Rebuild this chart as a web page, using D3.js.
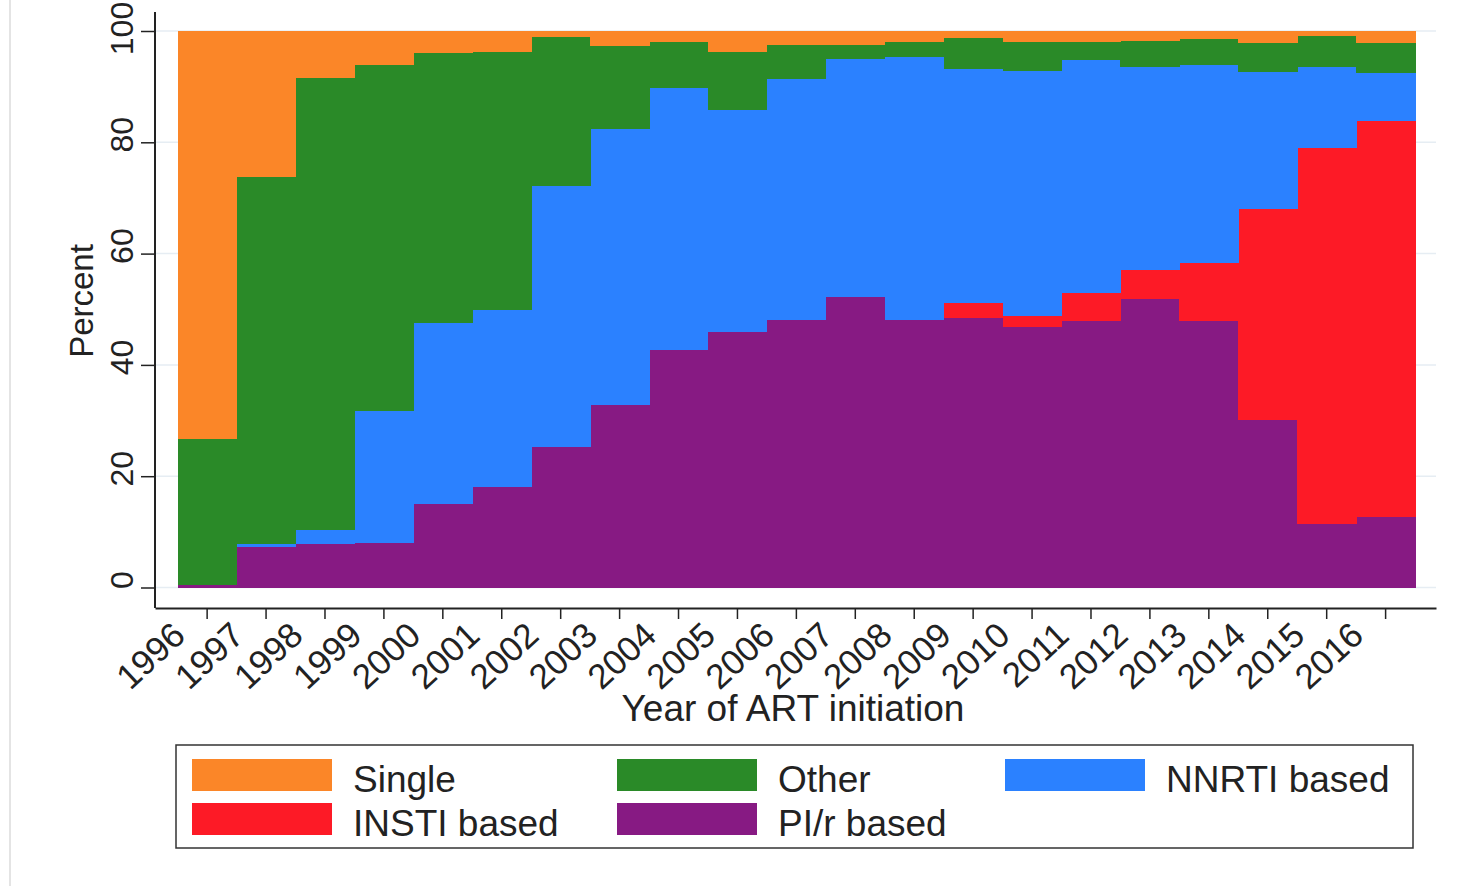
<!DOCTYPE html>
<html>
<head>
<meta charset="utf-8">
<script src="https://cdn.jsdelivr.net/npm/d3@7"></script>
<style>
  body { margin: 0; background: #fff; }
  svg { display: block; font-family: "Liberation Sans", Arial, sans-serif; }
</style>
</head>
<body>
<svg id="chart" width="1462" height="886"></svg>
<script>
const years = ['1996','1997','1998','1999','2000','2001','2002','2003','2004','2005','2006',
               '2007','2008','2009','2010','2011','2012','2013','2014','2015','2016']
const piR    = [0.5, 7.3, 7.9, 8.0, 15.0, 18.1, 25.3, 32.8, 42.6, 45.9, 48.0, 52.2, 48.0, 48.4, 46.9, 47.9, 51.8, 47.8, 30.1, 11.5, 12.7]
const insti  = [0, 0, 0, 0, 0, 0, 0, 0, 0, 0, 0, 0, 0, 2.7, 1.9, 5.0, 5.3, 10.6, 38.0, 67.4, 71.2]
const nnrti  = [0, 0.5, 2.4, 23.7, 32.6, 31.8, 46.9, 49.6, 47.2, 39.9, 43.4, 42.7, 47.4, 42.1, 44.1, 41.9, 36.5, 35.5, 24.6, 14.7, 8.5]
const other  = [26.1, 66.0, 81.3, 62.2, 48.4, 46.3, 26.7, 14.9, 8.2, 10.5, 6.1, 2.6, 2.6, 5.5, 5.1, 3.2, 4.6, 4.6, 5.1, 5.5, 5.5]
const single = [73.4, 26.2, 8.4, 6.1, 4.0, 3.8, 1.1, 2.7, 2.0, 3.7, 2.5, 2.5, 2.0, 1.3, 2.0, 2.0, 1.8, 1.5, 2.2, 0.9, 2.1]
const yTicks = [0, 20, 40, 60, 80, 100]

// stacking order bottom -> top
const keys = ['PI/r based', 'INSTI based', 'NNRTI based', 'Other', 'Single']
const colors = {
    'Single': '#fb8628',
    'Other': '#2a8a28',
    'NNRTI based': '#2b81ff',
    'INSTI based': '#fd1a26',
    'PI/r based': '#871a83'
}
const legendRows = [['Single', 'Other', 'NNRTI based'], ['INSTI based', 'PI/r based']]

const table = years.map((y, i) => ({
    year: y,
    'PI/r based': piR[i],
    'INSTI based': insti[i],
    'NNRTI based': nnrti[i],
    'Other': other[i],
    'Single': single[i]
}))

const plot = { left: 155, right: 1436, top: 12, bottom: 608 }

const svg = d3.select('#chart')

const x = d3.scaleBand()
    .domain(years)
    .range([plot.left, plot.right])
    .paddingInner(0)
    .paddingOuter(0.37)
    .align(0.52)

const y = d3.scaleLinear()
    .domain([0, 100])
    .range([587.5, 31])

// faint gridlines
svg.append('g')
    .selectAll('line')
    .data(yTicks)
    .join('line')
        .attr('x1', plot.left)
        .attr('x2', plot.right)
        .attr('y1', d => y(d))
        .attr('y2', d => y(d))
        .attr('stroke', '#e6edf3')
        .attr('stroke-width', 1.5)

// faint outer border line at far left
svg.append('line')
    .attr('x1', 10).attr('x2', 10)
    .attr('y1', 0).attr('y2', 886)
    .attr('stroke', '#e4e4e4')
    .attr('stroke-width', 2)

const series = d3.stack().keys(keys)(table)

svg.append('g')
    .selectAll('g')
    .data(series)
    .join('g')
        .attr('fill', d => colors[d.key])
    .selectAll('rect')
    .data(d => d)
    .join('rect')
        .attr('x', d => x(d.data.year))
        .attr('width', x.bandwidth() + 0.5)
        .attr('y', d => y(d[1]))
        .attr('height', d => y(d[0]) - y(d[1]))
        .attr('shape-rendering', 'crispEdges')

// y axis
const yAxisGroup = svg.append('g')
    .attr('transform', `translate(${plot.left}, 0)`)
    .call(d3.axisLeft(y).tickValues(yTicks).tickSize(14).tickSizeOuter(0))
yAxisGroup.select('.domain').remove()
yAxisGroup.selectAll('.tick line').attr('stroke', '#222').attr('stroke-width', 1.5)
yAxisGroup.selectAll('.tick text')
    .attr('transform', 'rotate(-90)')
    .attr('x', d => d === 100 ? 3 : 8)
    .attr('y', -22)
    .attr('dy', 0)
    .attr('text-anchor', 'middle')
    .attr('font-size', 32)
    .attr('fill', '#222')

svg.append('line')
    .attr('x1', plot.left).attr('x2', plot.left)
    .attr('y1', plot.top).attr('y2', plot.bottom)
    .attr('stroke', '#222')
    .attr('stroke-width', 2)

// x axis
const xAxisGroup = svg.append('g')
    .attr('transform', `translate(0, ${plot.bottom})`)
    .call(d3.axisBottom(x).tickSize(11).tickSizeOuter(0))
xAxisGroup.select('.domain').attr('stroke', '#222').attr('stroke-width', 2)
xAxisGroup.selectAll('.tick line').attr('stroke', '#222').attr('stroke-width', 1.5)
xAxisGroup.selectAll('.tick text')
    .attr('text-anchor', 'end')
    .attr('font-size', 35)
    .attr('fill', '#222')
    .attr('y', 0)
    .attr('dy', 0)
    .attr('transform', 'translate(-20, 30) rotate(-43)')

// axis titles
svg.append('text')
    .attr('x', 793)
    .attr('y', 721)
    .attr('text-anchor', 'middle')
    .attr('font-size', 37)
    .attr('fill', '#222')
    .text('Year of ART initiation')

svg.append('text')
    .attr('transform', 'translate(93, 301) rotate(-90)')
    .attr('text-anchor', 'middle')
    .attr('font-size', 33)
    .attr('fill', '#222')
    .text('Percent')

// legend
const legend = svg.append('g')
legend.append('rect')
    .attr('x', 176).attr('y', 745)
    .attr('width', 1237).attr('height', 103)
    .attr('fill', '#fff')
    .attr('stroke', '#333')
    .attr('stroke-width', 1.5)

const colX = [192, 617, 1005]
const rowY = [759, 803]
legendRows.forEach((row, r) => {
    row.forEach((key, c) => {
        legend.append('rect')
            .attr('x', colX[c]).attr('y', rowY[r])
            .attr('width', 140).attr('height', 32)
            .attr('fill', colors[key])
        legend.append('text')
            .attr('x', colX[c] + 161)
            .attr('y', rowY[r] + 33)
            .attr('font-size', 37)
            .attr('fill', '#222')
            .text(key)
    })
})
</script>
</body>
</html>
